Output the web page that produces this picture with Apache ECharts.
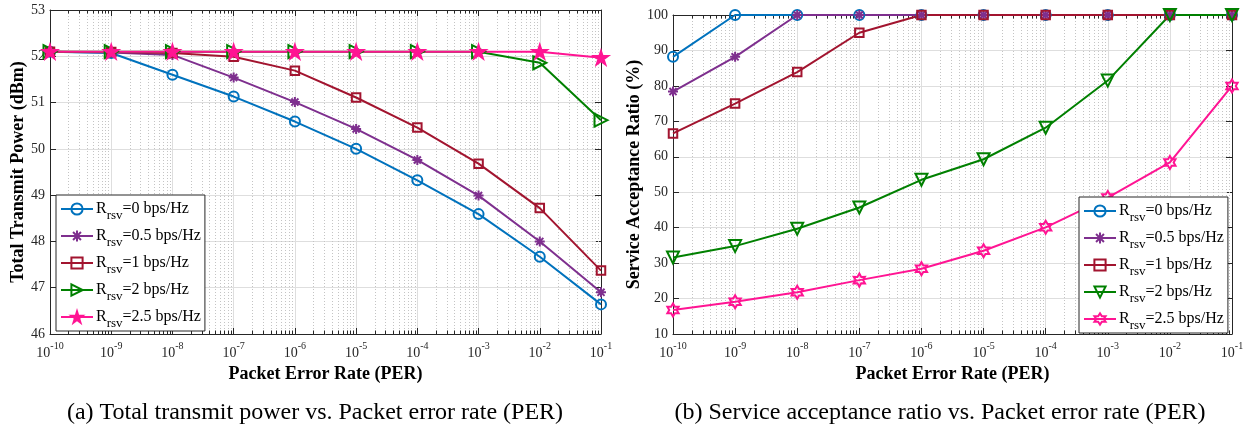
<!DOCTYPE html>
<html>
<head>
<meta charset="utf-8">
<script src="https://cdn.jsdelivr.net/npm/echarts@6/dist/echarts.min.js"></script>
<style>
  html, body { margin: 0; padding: 0; background: #fff; }
  #chart { width: 1247px; height: 430px; }
</style>
</head>
<body>
<div id="chart"></div>
<script>
// Packet error rate sweep (shared x values of both panels)
const PER = [1e-10, 1e-9, 1e-8, 1e-7, 1e-6, 1e-5, 1e-4, 1e-3, 1e-2, 1e-1];
// Reserved rate R_rsv of each curve, bps/Hz
const rsvRates = ['0', '0.5', '1', '2', '2.5'];

// (a) Total transmit power, dBm
const powerR0  = [52.10, 52.07, 51.60, 51.13, 50.59, 50.00, 49.32, 48.59, 47.67, 46.64];
const powerR05 = [52.10, 52.08, 52.03, 51.54, 51.01, 50.43, 49.76, 48.99, 48.00, 46.90];
const powerR1  = [52.10, 52.09, 52.07, 51.99, 51.69, 51.11, 50.46, 49.68, 48.72, 47.37];
const powerR2  = [52.10, 52.10, 52.10, 52.10, 52.10, 52.10, 52.10, 52.10, 51.86, 50.62];
const powerR25 = [52.10, 52.10, 52.10, 52.10, 52.10, 52.10, 52.10, 52.10, 52.10, 51.97];

// (b) Service acceptance ratio, %
const ratioR0  = [88.2, 100, 100, 100, 100, 100, 100, 100, 100, 100];
const ratioR05 = [78.4, 88.2, 100, 100, 100, 100, 100, 100, 100, 100];
const ratioR1  = [66.6, 75.0, 83.9, 95.0, 100, 100, 100, 100, 100, 100];
const ratioR2  = [31.6, 34.8, 39.7, 45.7, 53.5, 59.3, 68.2, 81.5, 100, 100];
const ratioR25 = [16.8, 19.1, 21.8, 25.2, 28.4, 33.5, 40.1, 48.5, 58.4, 80.0];

// Axis ranges
const powerRange = [46, 53];
const ratioRange = [10, 100];
const perRange = [1e-10, 1e-1];

const powerSets = [powerR0, powerR05, powerR1, powerR2, powerR25];
const ratioSets = [ratioR0, ratioR05, ratioR1, ratioR2, ratioR25];

const COLORS = ['#0072BD', '#7E2F8E', '#A2142F', '#008000', '#FF1493'];
const SERIF = 'Liberation Serif, Times New Roman, serif';
const AXIS_INK = '#262626';

// star-shaped marker outline (pentagram / hexagram)
function starPath(points, innerRatio) {
  let d = '';
  for (let i = 0; i < points * 2; i++) {
    const r = i % 2 === 0 ? 100 : 100 * innerRatio;
    const a = -Math.PI / 2 + i * Math.PI / points;
    d += (i === 0 ? 'M' : 'L') + (r * Math.cos(a)).toFixed(2) + ',' + (r * Math.sin(a)).toFixed(2);
  }
  return 'path://' + d + 'Z';
}
const ASTERISK = 'path://M0,-100L0,100M-100,0L100,0M-70.7,-70.7L70.7,70.7M-70.7,70.7L70.7,-70.7';
const PENTAGRAM = starPath(5, 0.382);
const HEXAGRAM = starPath(6, 0.577);

const powerMarkers = [
  { symbol: 'circle', size: 10, rotate: 0, filled: false },
  { symbol: ASTERISK, size: 10, rotate: 0, filled: false },
  { symbol: 'rect', size: 8.5, rotate: 0, filled: false },
  { symbol: 'triangle', size: 13, rotate: -90, filled: false },
  { symbol: PENTAGRAM, size: 14, rotate: 0, filled: true }
];
const ratioMarkers = [
  { symbol: 'circle', size: 10, rotate: 0, filled: false },
  { symbol: ASTERISK, size: 10, rotate: 0, filled: false },
  { symbol: 'rect', size: 8.5, rotate: 0, filled: false },
  { symbol: 'triangle', size: 12, rotate: 180, filled: false },
  { symbol: HEXAGRAM, size: 13, rotate: 0, filled: false }
];

// minor decade ticks (2..9 x 10^k) for the log axis
const minorPER = [];
for (let e = -10; e <= -2; e++) {
  for (let m = 2; m <= 9; m++) minorPER.push(Number((m * Math.pow(10, e)).toPrecision(3)));
}

function lineSeries(name, values, color, marker, axisIdx) {
  return {
    type: 'line',
    name: name,
    xAxisIndex: axisIdx,
    yAxisIndex: axisIdx,
    data: PER.map((p, i) => [p, values[i]]),
    symbol: marker.symbol,
    symbolSize: marker.size,
    symbolRotate: marker.rotate,
    symbolKeepAspect: true,
    showAllSymbol: true,
    lineStyle: { color: color, width: 2 },
    itemStyle: {
      color: marker.filled ? color : 'rgba(0,0,0,0)',
      borderColor: color,
      borderWidth: 2
    },
    emphasis: { disabled: true },
    animation: false,
    z: 3
  };
}

function minorGridSeries(axisIdx, yValue) {
  return {
    type: 'custom',
    xAxisIndex: axisIdx,
    yAxisIndex: axisIdx,
    silent: true,
    animation: false,
    z: 1,
    encode: { x: 0, y: 1 },
    data: minorPER.map(v => [v, yValue]),
    renderItem: function (params, api) {
      const cs = params.coordSys;
      const x = Math.round(api.coord([api.value(0), yValue])[0]) + 0.5;
      const top = cs.y, bottom = cs.y + cs.height;
      return {
        type: 'group',
        children: [
          { type: 'line', shape: { x1: x, y1: top, x2: x, y2: bottom },
            style: { stroke: '#c4c4c4', lineWidth: 1, lineDash: [1, 2] } },
          { type: 'line', shape: { x1: x, y1: bottom, x2: x, y2: bottom - 3.5 },
            style: { stroke: AXIS_INK, lineWidth: 1 } },
          { type: 'line', shape: { x1: x, y1: top, x2: x, y2: top + 3.5 },
            style: { stroke: AXIS_INK, lineWidth: 1 } }
        ]
      };
    }
  };
}

const perLabel = {
  fontFamily: SERIF,
  color: AXIS_INK,
  margin: 6,
  formatter: v => '{b|10}{e|' + Math.round(Math.log10(v)) + '}',
  rich: {
    b: { fontFamily: SERIF, fontSize: 14, color: AXIS_INK, lineHeight: 20, verticalAlign: 'bottom' },
    e: { fontFamily: SERIF, fontSize: 10, color: AXIS_INK, lineHeight: 10, verticalAlign: 'top', padding: [1, 0, 0, 0] }
  }
};

const TITLE_STYLE = { fontFamily: SERIF, fontWeight: 'bold', fontSize: 18, color: '#000' };

function perAxis(gridIndex, position, main) {
  return {
    type: 'log',
    logBase: 10,
    gridIndex: gridIndex,
    position: position,
    min: perRange[0],
    max: perRange[1],
    axisLine: { show: true, onZero: false, lineStyle: { color: AXIS_INK, width: 1 } },
    axisTick: { show: true, inside: true, length: 6, lineStyle: { color: AXIS_INK } },
    axisLabel: main ? perLabel : { show: false },
    splitLine: { show: main, lineStyle: { color: '#dedede', width: 1 } },
    minorTick: { show: false },
    name: main ? 'Packet Error Rate (PER)' : '',
    nameLocation: 'middle',
    nameGap: 24,
    nameTextStyle: TITLE_STYLE
  };
}

function valueAxis(gridIndex, position, range, step, main, title, gap) {
  return {
    type: 'value',
    gridIndex: gridIndex,
    position: position,
    min: range[0],
    max: range[1],
    interval: step,
    axisLine: { show: true, onZero: false, lineStyle: { color: AXIS_INK, width: 1 } },
    axisTick: { show: true, inside: true, length: 6, lineStyle: { color: AXIS_INK } },
    axisLabel: main ? { fontFamily: SERIF, fontSize: 14, color: AXIS_INK, margin: 5 } : { show: false },
    splitLine: { show: main, lineStyle: { color: '#dedede', width: 1 } },
    name: main ? title : '',
    nameLocation: 'middle',
    nameGap: gap,
    nameTextStyle: TITLE_STYLE
  };
}

function legendBox(left, top, names) {
  return {
    data: names,
    orient: 'vertical',
    left: left,
    top: top,
    selectedMode: false,
    itemWidth: 32,
    itemHeight: 14,
    itemGap: 0,
    padding: [0, 4, 1, 4],
    backgroundColor: '#fff',
    borderColor: AXIS_INK,
    borderWidth: 1,
    borderRadius: 0,
    formatter: n => '{r|R}{s|rsv}{t|=' + n.split('=')[1] + ' bps/Hz}',
    textStyle: {
      fontFamily: SERIF,
      padding: [0, 0, 0, -2],
      rich: {
        r: { fontFamily: SERIF, fontSize: 16, color: '#000', lineHeight: 26, verticalAlign: 'middle' },
        s: { fontFamily: SERIF, fontSize: 13, color: '#000', lineHeight: 12, padding: [14, 0, 0, 0], verticalAlign: 'bottom' },
        t: { fontFamily: SERIF, fontSize: 16, color: '#000', lineHeight: 26, verticalAlign: 'middle' }
      }
    }
  };
}

const powerNames = rsvRates.map(r => 'power R_rsv=' + r);
const ratioNames = rsvRates.map(r => 'ratio R_rsv=' + r);

const series = [minorGridSeries(0, 50), minorGridSeries(2, 50)];
powerSets.forEach((vals, i) => series.push(lineSeries(powerNames[i], vals, COLORS[i], powerMarkers[i], 0)));
ratioSets.forEach((vals, i) => series.push(lineSeries(ratioNames[i], vals, COLORS[i], ratioMarkers[i], 2)));

const CAPTION_STYLE = { fontFamily: SERIF, fontSize: 24, fill: '#000', align: 'center', verticalAlign: 'middle' };

const option = {
  backgroundColor: '#fff',
  animation: false,
  grid: [
    { left: 50, right: 646, top: 10, bottom: 96 },
    { left: 673, right: 15, top: 15, bottom: 96 }
  ],
  xAxis: [
    perAxis(0, 'bottom', true),
    perAxis(0, 'top', false),
    perAxis(1, 'bottom', true),
    perAxis(1, 'top', false)
  ],
  yAxis: [
    valueAxis(0, 'left', powerRange, 1, true, 'Total Transmit Power (dBm)', 23),
    valueAxis(0, 'right', powerRange, 1, false, '', 0),
    valueAxis(1, 'left', ratioRange, 10, true, 'Service Acceptance Ratio (%)', 25),
    valueAxis(1, 'right', ratioRange, 10, false, '', 0)
  ],
  legend: [
    legendBox(56, 195, powerNames),
    legendBox(1079, 197, ratioNames)
  ],
  graphic: [
    { type: 'text', x: 315, y: 413,
      style: Object.assign({ text: '(a) Total transmit power vs. Packet error rate (PER)' }, CAPTION_STYLE) },
    { type: 'text', x: 940, y: 413,
      style: Object.assign({ text: '(b) Service acceptance ratio vs. Packet error rate (PER)' }, CAPTION_STYLE) }
  ],
  series: series
};

const chart = echarts.init(document.getElementById('chart'), null, { renderer: 'canvas' });
chart.setOption(option);
</script>
</body>
</html>
